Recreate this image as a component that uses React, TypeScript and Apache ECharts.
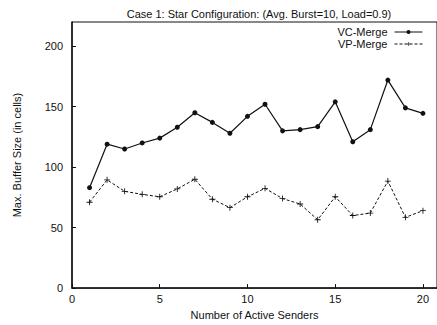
import React, { useEffect, useRef } from "react";
import * as echarts from "echarts";

const senders = [1, 2, 3, 4, 5, 6, 7, 8, 9, 10, 11, 12, 13, 14, 15, 16, 17, 18, 19, 20];
const vcMerge = [83, 119, 115, 120, 124, 133, 145, 137, 128, 142, 152, 130, 131, 133.5, 154, 121, 131, 172, 149, 144.5];
const vpMerge = [71, 89.5, 80, 77.5, 75.5, 82, 90, 73.5, 66.5, 75.5, 82.5, 74, 69.5, 56.5, 75.5, 60, 62, 88.5, 58.5, 64];
const yTicks = [0, 50, 100, 150, 200];

const FONT = "Liberation Sans";
const plusPath = "path://M3,0L4,0L4,3L7,3L7,4L4,4L4,7L3,7L3,4L0,4L0,3L3,3Z";

export default function App() {
  const ref = useRef<HTMLDivElement>(null);
  useEffect(() => {
    if (!ref.current) return;
    const chart = echarts.init(ref.current, null, { renderer: "svg" });
    chart.setOption({
      animation: false,
      backgroundColor: "#fff",
      title: {
        text: "Case 1: Star Configuration: (Avg. Burst=10, Load=0.9)",
        left: 254,
        top: 3,
        textAlign: "center",
        textStyle: { fontFamily: FONT, fontSize: 11, fontWeight: "normal", color: "#111" },
      },
      legend: {
        orient: "vertical",
        right: 12,
        top: 24,
        padding: [2, 2, 2, 2],
        align: "right",
        itemWidth: 28,
        itemHeight: 5,
        itemGap: 0,
        lineStyle: { width: 1 },
        textStyle: { fontFamily: FONT, fontSize: 11, color: "#111", padding: [0, 2, 0, 0], lineHeight: 12 },
        data: ["VC-Merge", "VP-Merge"],
      },
      grid: { left: 72, right: 0, top: 22, bottom: 32, show: true, borderColor: "#111", borderWidth: 1 },
      xAxis: {
        type: "value",
        min: 0,
        max: 20.8,
        interval: 5,
        name: "Number of Active Senders",
        nameLocation: "middle",
        nameGap: 17,
        nameTextStyle: { fontFamily: FONT, fontSize: 11, color: "#111" },
        axisLine: { show: true, lineStyle: { color: "#111", width: 1.5 } },
        axisTick: { inside: true, length: 4, lineStyle: { color: "#111" } },
        axisLabel: { showMaxLabel: false, fontFamily: FONT, fontSize: 11, color: "#111", margin: 5 },
        splitLine: { show: false },
      },
      yAxis: {
        type: "value",
        min: 0,
        max: 220,
        interval: 50,
        name: "Max. Buffer Size (in cells)",
        nameLocation: "middle",
        nameGap: 50,
        nameRotate: 90,
        nameTextStyle: { fontFamily: FONT, fontSize: 11, color: "#111" },
        axisLine: { show: true, lineStyle: { color: "#111", width: 1.5 } },
        axisTick: { inside: true, length: 4, lineStyle: { color: "#111" } },
        axisLabel: {
          showMaxLabel: false,
          fontFamily: FONT,
          fontSize: 11,
          color: "#111",
          margin: 9,
          formatter: (v: number) => (yTicks.includes(v) ? String(v) : ""),
        },
        splitLine: { show: false },
      },
      series: [
        {
          name: "VC-Merge",
          type: "line",
          data: senders.map((s, i) => [s, vcMerge[i]]),
          symbol: "circle",
          symbolSize: 5,
          itemStyle: { color: "#111" },
          lineStyle: { color: "#111", width: 1.2 },
        },
        {
          name: "VP-Merge",
          type: "line",
          data: senders.map((s, i) => [s, vpMerge[i]]),
          symbol: plusPath,
          symbolSize: 6,
          itemStyle: { color: "#111" },
          lineStyle: { color: "#111", width: 1, type: [3, 2] },
        },
      ],
    });
    return () => chart.dispose();
  }, []);
  return <div ref={ref} style={{ width: 437, height: 325, position: "absolute", left: 0, top: 0 }} />;
}
